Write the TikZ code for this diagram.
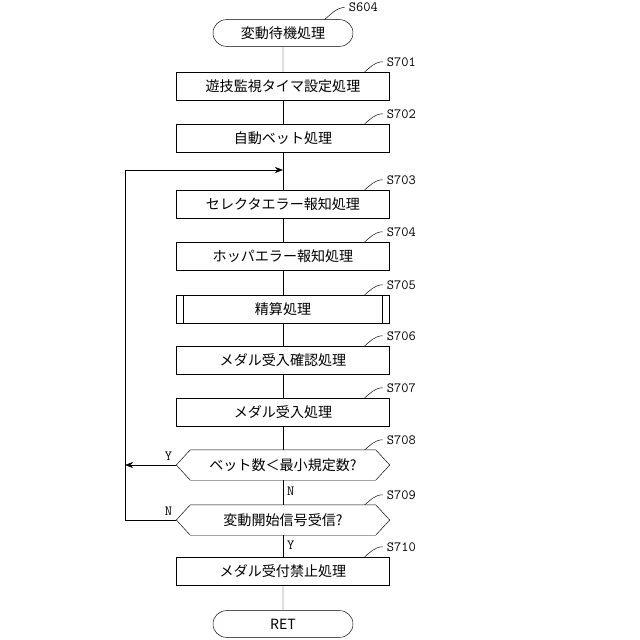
\documentclass[tikz,border=0pt]{standalone}
\usepackage{fontspec}
\newfontfamily\jp{Noto Sans CJK JP}
\usetikzlibrary{shapes.misc,arrows.meta}
\tikzset{
  x=0.03cm,y=-0.03cm,
  every node/.style={font=\jp\fontsize{12}{14}\selectfont},
  proc/.style={draw,minimum width=6.39cm,minimum height=0.84cm,inner sep=0pt},
  term/.style={draw,rounded rectangle,minimum width=4.2cm,minimum height=0.8cm,inner sep=0pt},
  dec/.style={minimum width=6.39cm,minimum height=0.9cm,inner sep=0pt},
  tag/.style={font=\fontsize{12}{14}\selectfont\ttfamily,anchor=west},
  yn/.style={font=\fontsize{12}{14}\selectfont\ttfamily},
  flow/.style={-{Stealth[length=7pt]}}
}
\newcommand{\steptag}[2]{% node, label
  \draw (#1.north east) ++(-25,0) .. controls +(5,-4) and +(-8,0) .. ++(18,-10) node[tag]{#2};}
\newcommand{\hexa}[1]{% outline of a decision node
  \draw (#1.west) -- ([xshift=12]#1.north west) -- ([xshift=-12]#1.north east) -- (#1.east)
    -- ([xshift=-12]#1.south east) -- ([xshift=12]#1.south west) -- cycle;}
\begin{document}
\begin{tikzpicture}
\useasboundingbox (0,0) rectangle (640,640);
\node[term] (s604) at (283,33) {変動待機処理};
\node[proc] (s701) at (283,86) {遊技監視タイマ設定処理};
\node[proc] (s702) at (283,138) {自動ベット処理};
\node[proc] (s703) at (283,204) {セレクタエラー報知処理};
\node[proc] (s704) at (283,256) {ホッパエラー報知処理};
\node[proc] (s705) at (283,309) {精算処理};
\draw ([xshift=6]s705.north west) -- ([xshift=6]s705.south west);
\draw ([xshift=-6]s705.north east) -- ([xshift=-6]s705.south east);
\node[proc] (s706) at (283,360) {メダル受入確認処理};
\node[proc] (s707) at (283,412) {メダル受入処理};
\node[dec] (s708) at (283,465) {ベット数＜最小規定数?};
\hexa{s708}
\node[dec] (s709) at (283,520) {変動開始信号受信?};
\hexa{s709}
\node[proc] (s710) at (283,571) {メダル受付禁止処理};
\node[term] (ret) at (283,624) {RET};
\coordinate (loop) at (125,170);
\coordinate (top) at (283,170);
% main flow
\draw (s604) -- (s701);
\draw (s701) -- (s702);
\draw (s702) -- (s703);
\draw (s703) -- (s704);
\draw (s704) -- (s705);
\draw (s705) -- (s706);
\draw (s706) -- (s707);
\draw (s707) -- (s708);
\draw (s708) -- node[pos=0.45,right,yn]{N} (s709);
\draw (s709) -- node[pos=0.45,right,yn]{Y} (s710);
\draw (s710) -- (ret);
% branches
\draw[flow] (s708.west) -- node[pos=0.15,above,yn]{Y} (125,465);
\draw[flow] (s709.west) -- node[pos=0.15,above,yn]{N} (125,520) -- (loop) -- (top);
% step labels
\draw (s604.north east) ++(-15,0) .. controls +(5,-4) and +(-8,0) .. ++(20,-12) node[tag]{S604};
\steptag{s701}{S701}
\steptag{s702}{S702}
\steptag{s703}{S703}
\steptag{s704}{S704}
\steptag{s705}{S705}
\steptag{s706}{S706}
\steptag{s707}{S707}
\steptag{s708}{S708}
\steptag{s709}{S709}
\steptag{s710}{S710}
\end{tikzpicture}
\end{document}
